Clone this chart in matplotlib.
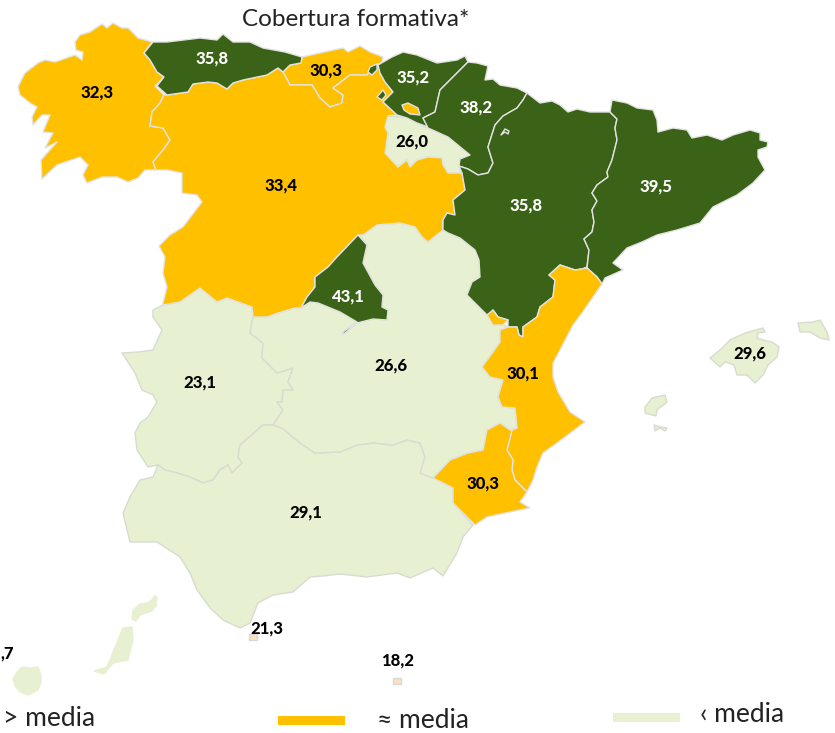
import matplotlib
matplotlib.use("Agg")
import matplotlib.pyplot as plt

GREEN = "#3B6318"
ORANGE = "#FFC000"
LIGHT = "#E7F0D1"
PALE = "#FBE0C4"

# outlines, in picture pixels
galicia = [(75,42),(80,35),(90,32),(102,24),(107,28),(113,23),(122,28),(128,28),(138,38),(152,42),(144,53),(150,60),(157,72),(164,77),(155,86),(164,95),(160,103),(152,112),(150,126),(163,128),(170,140),(163,150),(153,162),(156,170),(145,170),(138,178),(128,182),(117,177),(102,177),(87,183),(83,175),(88,165),(80,157),(57,165),(42,179),(41,160),(57,142),(45,148),(53,133),(43,132),(50,115),(42,115),(33,125),(32,117),(37,107),(30,103),(20,95),(18,87),(25,73),(38,63),(45,60),(55,62),(75,55),(82,60),(83,52),(76,50)]
asturias = [(153,42),(167,42),(200,38),(217,40),(223,34),(233,42),(250,42),(263,48),(285,52),(302,57),(301,63),(290,65),(283,72),(278,68),(267,75),(243,80),(233,83),(227,89),(217,83),(208,82),(193,84),(188,92),(167,95),(157,86),(164,77),(157,72),(150,60),(144,53)]
cantabria = [(302,57),(320,53),(343,48),(348,52),(360,46),(370,52),(383,57),(382,63),(375,65),(367,75),(350,75),(333,88),(343,95),(342,103),(330,107),(320,98),(312,85),(290,85),(283,72),(290,65),(301,63)]
pais_vasco = [(378,65),(392,57),(403,52),(417,55),(437,63),(457,60),(465,56),(468,62),(457,73),(440,90),(435,112),(423,118),(428,127),(417,123),(407,118),(397,115),(383,102),(393,92),(385,82),(380,73)]
navarra = [(468,62),(477,63),(488,66),(485,80),(493,79),(500,85),(517,88),(527,93),(523,100),(517,108),(503,116),(495,125),(488,147),(493,163),(488,173),(478,175),(468,169),(459,166),(460,159),(470,155),(448,137),(428,128),(423,118),(435,112),(440,90),(457,73)]
rioja = [(388,116),(400,117),(408,118),(423,126),(428,128),(448,137),(470,155),(460,159),(459,166),(462,173),(448,173),(443,165),(442,158),(428,157),(417,160),(410,167),(407,160),(398,167),(385,153),(388,133),(385,127)]
aragon = [(527,93),(540,103),(552,101),(560,105),(568,112),(577,109),(590,112),(610,112),(617,119),(615,128),(617,140),(612,160),(607,172),(608,177),(597,185),(592,193),(597,201),(592,210),(594,222),(592,232),(584,239),(589,250),(587,267),(582,269),(575,270),(560,265),(549,275),(555,280),(553,297),(540,307),(537,317),(523,327),(523,337),(519,335),(517,327),(508,327),(508,320),(498,317),(493,310),(492,315),(487,315),(480,308),(467,295),(472,282),(480,277),(479,260),(475,250),(460,238),(448,233),(443,230),(443,220),(447,213),(455,215),(453,200),(465,190),(462,173),(459,166),(468,169),(478,175),(488,173),(493,163),(488,147),(495,125),(503,116),(517,108),(523,100)]
cataluna = [(610,112),(612,100),(627,103),(637,108),(653,110),(657,120),(658,132),(673,128),(687,130),(692,138),(707,135),(722,140),(733,135),(750,130),(760,133),(760,140),(768,142),(767,147),(758,150),(758,157),(765,170),(753,183),(737,195),(713,207),(700,223),(677,230),(657,235),(642,242),(627,248),(613,263),(623,270),(605,278),(602,284),(597,277),(587,268),(589,250),(584,239),(592,232),(594,222),(592,210),(597,201),(592,193),(597,185),(608,177),(607,172),(612,160),(617,140),(615,128),(617,119)]
cyl = [(167,95),(188,92),(193,84),(208,82),(217,83),(227,89),(233,83),(243,80),(267,75),(278,68),(283,72),(290,85),(312,85),(320,98),(330,107),(342,103),(343,95),(333,88),(350,75),(367,75),(375,65),(382,63),(380,73),(385,82),(393,92),(383,102),(397,115),(388,116),(385,127),(388,133),(385,153),(398,167),(407,160),(410,167),(417,160),(428,157),(442,158),(443,165),(448,173),(462,173),(465,190),(453,200),(455,215),(447,213),(443,220),(443,230),(428,242),(422,237),(415,227),(400,223),(377,225),(363,235),(358,235),(337,257),(328,267),(315,277),(315,287),(307,297),(301,308),(295,308),(278,313),(267,317),(253,317),(252,307),(227,298),(217,302),(200,288),(180,302),(163,305),(163,303),(167,287),(163,273),(165,257),(159,246),(170,235),(183,227),(202,202),(197,195),(182,193),(182,173),(167,170),(156,170),(153,162),(163,150),(170,140),(163,128),(150,126),(152,112),(160,103),(164,95)]
madrid = [(358,235),(367,245),(363,263),(375,285),(383,295),(382,307),(388,310),(387,320),(373,319),(357,323),(345,333),(342,334),(343,332),(357,322),(340,312),(323,305),(318,303),(310,302),(301,308),(307,297),(315,287),(315,277),(328,267),(337,257)]
extremadura = [(153,310),(163,305),(180,302),(200,288),(217,302),(227,298),(252,307),(253,317),(250,333),(263,343),(262,358),(277,373),(293,368),(288,382),(293,390),(283,390),(282,402),(277,402),(283,410),(273,425),(263,425),(240,445),(238,457),(242,463),(232,473),(228,465),(220,470),(213,480),(203,483),(190,477),(177,473),(165,470),(158,465),(148,467),(137,450),(135,433),(140,423),(148,417),(157,402),(153,395),(142,390),(135,373),(122,353),(138,352),(153,350),(162,330),(153,317)]
andalucia = [(158,465),(165,470),(177,473),(190,477),(203,483),(213,480),(220,470),(228,465),(232,473),(242,463),(238,457),(240,445),(263,425),(273,425),(282,428),(300,443),(315,453),(340,452),(357,445),(373,443),(393,445),(407,440),(420,443),(425,457),(420,473),(433,478),(453,488),(453,503),(473,525),(463,537),(457,553),(443,576),(433,568),(410,578),(397,573),(367,577),(340,574),(323,576),(310,577),(293,592),(273,595),(258,603),(250,623),(240,628),(223,620),(210,608),(197,590),(190,573),(180,557),(157,542),(130,542),(123,513),(130,497),(140,480),(153,477)]
clm = [(253,317),(267,317),(278,313),(295,308),(301,308),(310,302),(318,303),(323,305),(340,312),(357,322),(343,332),(342,334),(345,333),(357,323),(373,319),(387,320),(388,310),(382,307),(383,295),(375,285),(363,263),(367,245),(358,235),(363,235),(377,225),(400,223),(415,227),(422,237),(428,242),(443,230),(448,233),(460,238),(475,250),(479,260),(480,277),(472,282),(467,295),(480,308),(487,315),(492,315),(493,325),(503,325),(508,327),(500,330),(500,342),(493,352),(482,367),(490,377),(503,380),(498,397),(502,407),(515,408),(517,428),(510,430),(500,423),(487,430),(483,450),(468,453),(450,460),(433,478),(420,473),(425,457),(420,443),(407,440),(393,445),(373,443),(357,445),(340,452),(315,453),(300,443),(282,428),(273,425),(283,410),(277,402),(282,402),(283,390),(293,390),(288,382),(293,368),(277,373),(262,358),(263,343),(250,333)]
valencia = [(560,265),(575,270),(587,268),(597,277),(602,284),(582,313),(573,325),(560,350),(553,363),(553,377),(558,392),(570,412),(585,422),(577,428),(557,443),(543,453),(537,467),(533,480),(527,492),(515,480),(512,470),(513,460),(507,450),(512,430),(517,428),(515,408),(502,407),(498,397),(503,380),(490,377),(482,367),(493,352),(500,342),(500,330),(508,327),(517,327),(519,335),(523,337),(523,327),(537,317),(540,307),(553,297),(555,280),(549,275)]
murcia = [(433,478),(450,460),(468,453),(483,450),(487,430),(500,423),(510,430),(512,430),(507,450),(513,460),(512,470),(515,480),(527,492),(520,502),(530,508),(510,512),(487,517),(475,525),(463,513),(453,503),(453,488)]
mallorca = [(710,358),(720,350),(730,340),(745,333),(763,328),(765,332),(758,333),(757,338),(763,340),(772,342),(779,347),(777,357),(768,365),(763,375),(755,383),(747,375),(737,375),(734,365),(725,362),(720,367)]
menorca = [(798,323),(813,322),(820,320),(827,332),(829,340),(820,338),(810,332),(800,332)]
ibiza = [(645,407),(652,398),(665,395),(667,402),(657,410),(656,416),(645,413)]
formentera = [(654,425),(660,427),(667,428),(665,431),(660,428),(655,431)]
lanzarote = [(132,619),(133,610),(140,604),(147,603),(152,600),(155,595),(157,598),(156,606),(152,611),(140,615),(136,621)]
fuerteventura = [(94,671),(107,667),(112,655),(118,640),(123,628),(132,627),(133,640),(130,652),(128,660),(113,663),(104,674)]
gran_canaria = [(13,679),(17,672),(22,667),(30,668),(38,667),(41,675),(41,682),(38,690),(28,695),(20,692),(15,686)]
ceuta = [(249,634),(257,634),(257,640),(249,640)]
melilla = [(393,678),(401,678),(401,684),(393,684)]
ademuz = [(493,310),(498,317),(508,320),(503,325),(493,325),(487,315)]
trevino = [(402,105),(408,103),(418,108),(420,115),(410,114),(404,110)]
villaverde = [(377,97),(383,90),(386,95),(382,100)]
castro = [(368,72),(370,67),(377,64),(377,70),(372,75)]
petilla = [(501,135),(505,129),(509,131),(508,134),(505,132)]

green_regions = [asturias, pais_vasco, navarra, aragon, cataluna, madrid, villaverde, castro]
orange_regions = [galicia, cantabria, cyl, valencia, murcia, ademuz, trevino]
light_regions = [rioja, extremadura, andalucia, clm, mallorca, menorca, ibiza, formentera]
canary_regions = [lanzarote, fuerteventura, gran_canaria]
pale_regions = [ceuta, melilla]

labels = ["32,3","35,8","30,3","35,2","38,2","26,0","33,4","35,8","39,5","43,1",
          "26,6","23,1","30,1","29,6","30,3","29,1","21,3","18,2",",7"]
label_x = [97,212,326,413,476,412,281,526,656,348,391,200,523,750,483,306,267,398,7]
label_y = [92,58,70,77,107,141,185,205,186,296,365,382,373,353,483,512,628,660,653]
label_col = ["k","w","k","w","w","k","k","w","w","w","k","k","k","k","k","k","k","k","k"]

legend_text = ["> media", "≈ media", "‹ media"]
legend_text_x = [3, 377, 700]
legend_text_y = [719, 721, 715]
swatch_x = [278, 613]
swatch_y = [716, 713]
swatch_col = [ORANGE, LIGHT]

fig = plt.figure(figsize=(8.35, 7.33), dpi=100)
ax = fig.add_axes([0, 0, 1, 1])
ax.set_xlim(0, 835)
ax.set_ylim(733, 0)
ax.axis("off")


def draw(regions, color, edge, z=2):
    for r in regions:
        xs = [p[0] for p in r]
        ys = [p[1] for p in r]
        ax.fill(xs, ys, facecolor=color, edgecolor=edge, linewidth=1.0, zorder=z, joinstyle="round")


draw(light_regions, LIGHT, "#D8DCD0")
draw(canary_regions, LIGHT, LIGHT)
draw(pale_regions, PALE, "#D9D9D9")
draw(orange_regions[:3], ORANGE, "#E3E3E3", 3)
draw(green_regions[:6], GREEN, "#E3E3E3", 3)
draw(orange_regions[3:5], ORANGE, "#E3E3E3", 3)
draw(orange_regions[5:], ORANGE, "#E3E3E3", 4)
draw(green_regions[6:], GREEN, "#E3E3E3", 4)
draw([petilla], GREEN, "#E3E3E3", 4)

for t, x, y, c in zip(labels, label_x, label_y, label_col):
    ax.text(x, y, t, color=c, family="Lato", fontweight="black", fontsize=12,
            ha="center", va="center", zorder=6)

ax.text(356, 19, "Cobertura formativa*", family="Lato", fontsize=17.5, color="#222222",
        ha="center", va="center")

for t, x, y in zip(legend_text, legend_text_x, legend_text_y):
    ax.text(x, y, t, family="Lato", fontsize=19, color="#222222", ha="left", va="center")

for x, y, c in zip(swatch_x, swatch_y, swatch_col):
    ax.add_patch(plt.Rectangle((x, y), 67, 9, facecolor=c, edgecolor="none"))

fig.savefig("out.png", dpi=100)
